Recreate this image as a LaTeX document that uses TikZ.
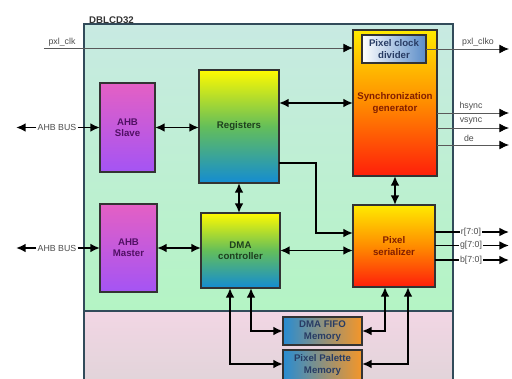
\documentclass[tikz,border=0pt]{standalone}
\usepackage{fontspec}
\setmainfont{Liberation Sans}
\usepackage{tikz}
\usetikzlibrary{calc,arrows.meta}

\definecolor{ahbtop}{RGB}{228,96,196}
\definecolor{ahbbot}{RGB}{164,84,244}
\definecolor{ahbtxt}{RGB}{80,16,100}
\definecolor{regtop}{RGB}{255,250,0}
\definecolor{regmid}{RGB}{100,190,90}
\definecolor{regbot}{RGB}{20,140,210}
\definecolor{regtxt}{RGB}{30,64,30}
\definecolor{syntop}{RGB}{255,235,0}
\definecolor{synmid}{RGB}{255,140,0}
\definecolor{synbot}{RGB}{255,30,10}
\definecolor{syntxt}{RGB}{130,30,0}
\definecolor{memleft}{RGB}{40,140,210}
\definecolor{memright}{RGB}{245,150,40}
\definecolor{memtxt}{RGB}{40,60,100}
\definecolor{divright}{RGB}{90,140,200}
\definecolor{uptop}{RGB}{200,234,226}
\definecolor{upbot}{RGB}{180,244,196}
\definecolor{lowtop}{RGB}{242,214,228}
\definecolor{lowbot}{RGB}{226,212,218}
\definecolor{frame}{RGB}{50,75,90}

\begin{document}
\begin{tikzpicture}[x=0.02cm,y=-0.02cm,
  box/.style={draw=black!80,line width=0.8pt,inner sep=0pt,outer sep=0pt,
    align=center,font=\fontsize{5.5}{6.5}\selectfont\bfseries},
  ahb/.style={box,top color=ahbtop,bottom color=ahbbot,text=ahbtxt},
  reg/.style={box,top color=regtop,bottom color=regbot,middle color=regmid,text=regtxt},
  syn/.style={box,top color=syntop,bottom color=synbot,middle color=synmid,text=syntxt},
  mem/.style={box,left color=memleft,right color=memright,text=memtxt},
  lbl/.style={font=\fontsize{5}{6}\selectfont,text=black!70,inner sep=0.5pt},
  tip/.style={-{Latex[length=5.5pt,width=5pt]}},
  conn/.style={line width=1.1pt,{Latex[length=5.5pt,width=5pt]}-{Latex[length=5.5pt,width=5pt]}},
  sig/.style={draw=black!65,line width=0.5pt,-{Latex[length=5.5pt,width=5pt,color=black]}}]

  \useasboundingbox (0,0) rectangle (512,379);

  \fill[top color=uptop,bottom color=upbot] (84,24) rectangle (453,311);
  \fill[top color=lowtop,bottom color=lowbot] (84,311) rectangle (453,379);
  \draw[frame,line width=0.6pt] (84,311) -- (453,311);
  \draw[frame,line width=1.2pt] (84,381) -- (84,24) -- (453,24) -- (453,381);
  \node (top) at (88,25) [above right,inner sep=0.5pt,font=\fontsize{5.5}{6.5}\selectfont\bfseries,text=black!80] {DBLCD32};

  \node (slave) at (127.5,127.5) [ahb,minimum width=1.10cm,minimum height=1.78cm] {AHB\\Slave};
  \node (master) at (128.5,248) [ahb,minimum width=1.14cm,minimum height=1.76cm] {AHB\\Master};
  \node (regs) at (239,126.5) [reg,minimum width=1.60cm,minimum height=2.26cm] {Registers};
  \node (dma) at (240.5,250.5) [reg,minimum width=1.58cm,minimum height=1.50cm] {DMA\\controller};
  \node (sync) at (395,103) [syn,minimum width=1.68cm,minimum height=2.92cm] {Synchronization\\generator};
  \node (div) at (394,49) [box,left color=white,right color=divright,text=memtxt,minimum width=1.28cm,minimum height=0.56cm] {Pixel clock\\divider};
  \node (ser) at (394,246) [syn,minimum width=1.64cm,minimum height=1.64cm] {Pixel\\serializer};
  \node (fifo) at (322.5,331) [mem,minimum width=1.58cm,minimum height=0.56cm] {DMA FIFO\\Memory};
  \node (pal) at (322.5,365) [mem,minimum width=1.58cm,minimum height=0.60cm] {Pixel Palette\\Memory};

  \node (bus1) at (57,127.5) [lbl] {AHB BUS};
  \node (bus2) at (57,248) [lbl] {AHB BUS};
  \coordinate (bus1end) at (16,127.5);
  \coordinate (bus2end) at (16,248);
  \draw[line width=1.1pt,tip] (bus1) -- (bus1end);
  \draw[line width=1.1pt,tip] (bus1) -- (slave);
  \draw[line width=1.1pt,tip] (bus2) -- (bus2end);
  \draw[line width=1.1pt,tip] (bus2) -- (master);

  \draw[conn] (slave.east) -- (slave.east -| regs.west);
  \draw[conn] (master.east) -- (master.east -| dma.west);
  \draw[conn] (regs.east |- sync.west) -- (sync.west);
  \draw[conn] (regs.south) -- (regs.south |- dma.north);
  \draw[conn] (sync.south) -- (sync.south |- ser.north);
  \draw[conn] (dma.east) -- (dma.east -| ser.west);
  \draw[line width=1.1pt,tip]
    ($(regs.east)+(0,36.5)$) -| ($(ser.west)+(-37,-13)$) -- ($(ser.west)+(0,-13)$);

  \draw[conn] ($(dma.south)+(10.5,0)$) |- (fifo.west);
  \draw[conn] ($(dma.south)+(-10.5,0)$) |- ($(pal.west)+(0,-1)$);
  \draw[conn] ($(ser.south)+(-9,0)$) |- (fifo.east);
  \draw[conn] ($(ser.south)+(14,0)$) |- ($(pal.east)+(0,-1)$);

  \coordinate (clkin) at (44,48);
  \node (clklbl) at (62,42) [lbl] {pxl\_clk};
  \draw[sig] (clkin) -- (clkin -| sync.west);

  \coordinate (clkout) at (509,49);
  \node (clkolbl) at (478,42) [lbl] {pxl\_clko};
  \draw[sig] (div.east |- clkout) -- (clkout);

  \coordinate (hs) at (509,113);
  \coordinate (vs) at (509,128);
  \coordinate (de) at (509,145);
  \node (hslbl) at (471,106) [lbl] {hsync};
  \node (vslbl) at (471,121) [lbl] {vsync};
  \node (delbl) at (469,138) [lbl] {de};
  \draw[sig] (sync.east |- hs) -- (hs);
  \draw[sig] (sync.east |- vs) -- (vs);
  \draw[sig] (sync.east |- de) -- (de);

  \node (rlbl) at (471,232) [lbl] {r[7:0]};
  \node (glbl) at (471,245.5) [lbl] {g[7:0]};
  \node (blbl) at (471,260) [lbl] {b[7:0]};
  \coordinate (rend) at (509,232);
  \coordinate (gend) at (509,245.5);
  \coordinate (bend) at (509,260);
  \draw[line width=0.9pt] (ser.east |- rlbl) -- (rlbl);
  \draw[line width=0.9pt] (ser.east |- glbl) -- (glbl);
  \draw[line width=0.9pt] (ser.east |- blbl) -- (blbl);
  \draw[line width=0.9pt,tip] (rlbl) -- (rend);
  \draw[line width=0.9pt,tip] (glbl) -- (gend);
  \draw[line width=0.9pt,tip] (blbl) -- (bend);

\end{tikzpicture}
\end{document}
